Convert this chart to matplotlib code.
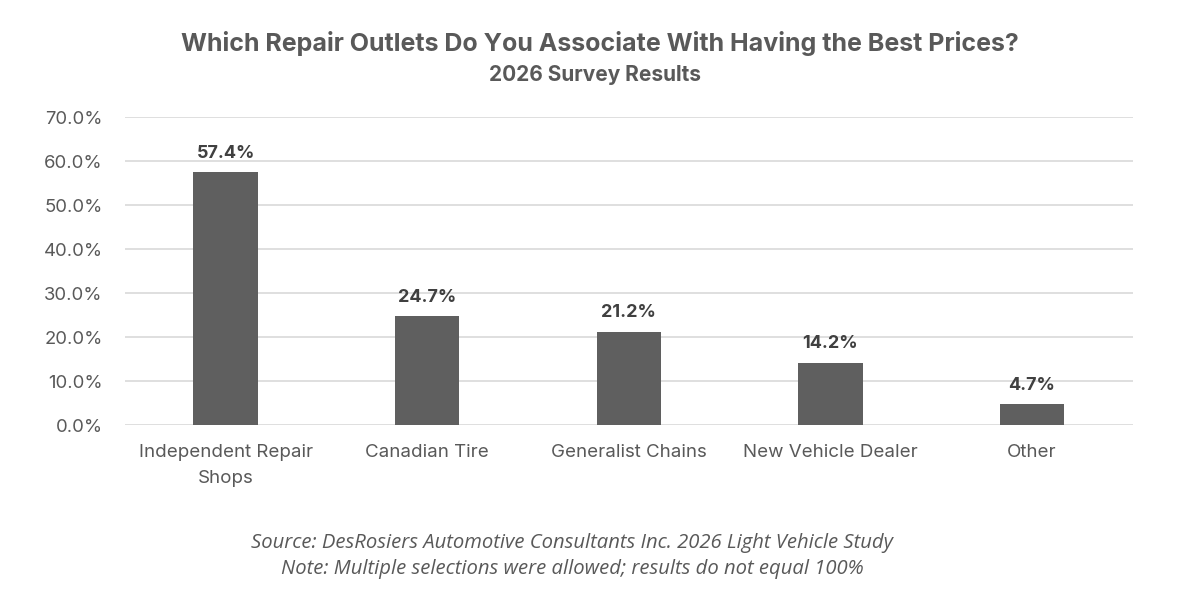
import matplotlib
matplotlib.use("Agg")
import matplotlib.pyplot as plt
from matplotlib.ticker import PercentFormatter

categories = ["Independent Repair\nShops", "Canadian Tire", "Generalist Chains",
              "New Vehicle Dealer", "Other"]
shares = [57.4, 24.7, 21.2, 14.2, 4.7]
yticks = [0, 10, 20, 30, 40, 50, 60, 70]

BAR_COLOR = "#5f5f5f"
TEXT_COLOR = "#595959"
GRID_COLOR = "#d9d9d9"

plt.rcParams["font.family"] = ["Inter", "DejaVu Sans"]

fig = plt.figure(figsize=(12, 6.11), dpi=100)
ax = fig.add_axes([0.104, 0.3044, 0.840, 0.5041])

x = list(range(len(categories)))
ax.bar(x, shares, width=0.32, color=BAR_COLOR, zorder=3)
for xi, v in zip(x, shares):
    ax.text(xi, v + 3.3, f"{v:.1f}%", ha="center", va="baseline",
            fontsize=13, fontweight="bold", color="#404040")

ax.set_xlim(-0.5, len(categories) - 0.5)
ax.set_ylim(0, 70)
ax.set_yticks(yticks)
ax.yaxis.set_major_formatter(PercentFormatter(decimals=1))
ax.set_xticks(x)
ax.set_xticklabels(categories, fontsize=13.5, linespacing=1.65)
ax.tick_params(axis="both", length=0, colors=TEXT_COLOR)
ax.tick_params(axis="y", labelsize=13.3, pad=16)
ax.tick_params(axis="x", pad=14)
ax.grid(axis="y", color=GRID_COLOR, linewidth=1.2, zorder=0)
for s in ax.spines.values():
    s.set_visible(False)

fig.text(0.5, 0.9296, "Which Repair Outlets Do You Associate With Having the Best Prices?",
         ha="center", va="center", fontsize=18, fontweight="bold", color=TEXT_COLOR)
fig.text(0.496, 0.877, "2026 Survey Results", ha="center", va="center",
         fontsize=15, fontweight="bold", color=TEXT_COLOR)

footer_font = ["Open Sans", "DejaVu Sans"]
fig.text(0.477, 0.111, "Source: DesRosiers Automotive Consultants Inc. 2026 Light Vehicle Study",
         ha="center", va="center", fontsize=14.6, style="italic", color=TEXT_COLOR,
         family=footer_font)
fig.text(0.477, 0.069, "Note: Multiple selections were allowed; results do not equal 100%",
         ha="center", va="center", fontsize=14.6, style="italic", color=TEXT_COLOR,
         family=footer_font)

fig.savefig("out.png", dpi=100)
